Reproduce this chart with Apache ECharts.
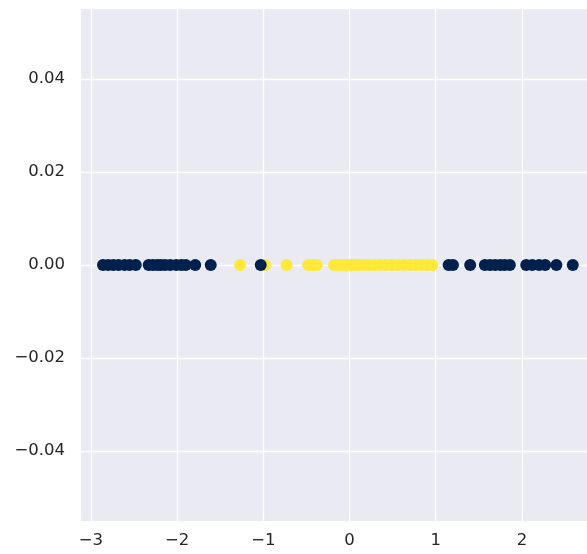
<!DOCTYPE html>
<html>
<head>
<meta charset="utf-8">
<script src="https://cdn.jsdelivr.net/npm/echarts@6/dist/echarts.min.js"></script>
<style>html,body{margin:0;padding:0;background:#fff}#c{width:587px;height:554px}</style>
</head>
<body>
<div id="c"></div>
<script>
// Class 0 (dark) x-values, all at y = 0
const darkX = [-2.86, -2.80, -2.74, -2.68, -2.61, -2.55, -2.48, -2.33, -2.28, -2.23, -2.19, -2.14, -2.08, -2.01, -1.95, -1.90, -1.79, -1.61, -1.03,
  1.15, 1.20, 1.40, 1.57, 1.63, 1.69, 1.75, 1.80, 1.86, 2.05, 2.12, 2.20, 2.27, 2.40, 2.59];
// Class 1 (yellow) x-values, all at y = 0
const yellowX = [-1.27, -0.98, -0.73, -0.48, -0.43, -0.38, -0.18, -0.13, -0.09, -0.04, 0.01, 0.06, 0.11, 0.17, 0.23, 0.29, 0.35, 0.42, 0.49,
  0.56, 0.63, 0.70, 0.77, 0.83, 0.90, 0.96];
const xTicks = [-3, -2, -1, 0, 1, 2];
const yTicks = [-0.04, -0.02, 0.00, 0.02, 0.04];
const xRange = [-3.115, 2.755];
const yRange = [-0.055, 0.055];

const fmtMinus = s => s.replace('-', '\u2212');
const chart = echarts.init(document.getElementById('c'));
chart.setOption({
  animation: false,
  grid: { left: 81, right: 0, top: 9, bottom: 33, show: true, backgroundColor: '#EAEAF2', borderWidth: 0 },
  xAxis: {
    type: 'value', min: xRange[0], max: xRange[1],
    axisLine: { show: false },
    axisTick: { show: false, customValues: xTicks },
    axisLabel: { customValues: xTicks, margin: 11, color: '#262626', fontSize: 16.5, fontFamily: 'DejaVu Sans',
      formatter: v => fmtMinus(String(Math.round(v))) },
    splitLine: { show: true, lineStyle: { color: '#ffffff', width: 1.3 } }
  },
  yAxis: {
    type: 'value', min: yRange[0], max: yRange[1],
    axisLine: { show: false },
    axisTick: { show: false, customValues: yTicks },
    axisLabel: { customValues: yTicks, margin: 16, color: '#262626', fontSize: 16.5, fontFamily: 'DejaVu Sans',
      formatter: v => fmtMinus(v.toFixed(2)) },
    splitLine: { show: true, lineStyle: { color: '#ffffff', width: 1.3 } }
  },
  series: [
    { type: 'scatter', symbolSize: 12, itemStyle: { color: '#FEE838', opacity: 1 },
      data: yellowX.map(x => [x, 0]) },
    { type: 'scatter', symbolSize: 12, itemStyle: { color: '#00204D', opacity: 1 },
      data: darkX.map(x => [x, 0]) }
  ]
});
</script>
</body>
</html>
